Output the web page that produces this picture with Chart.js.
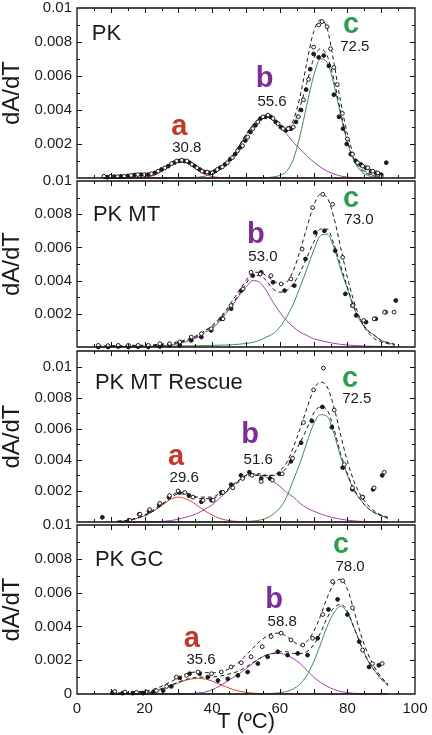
<!DOCTYPE html>
<html><head><meta charset="utf-8">
<script src="https://cdn.jsdelivr.net/npm/chart.js@4.4.1/dist/chart.umd.min.js"></script>
<style>
html,body{margin:0;padding:0;background:#fff}
body{position:relative;width:432px;height:735px;overflow:hidden}
canvas{position:absolute;left:0}
</style></head><body>
<canvas id="c1" width="432" height="186" style="top:-2px"></canvas>
<canvas id="c2" width="432" height="182" style="top:171px"></canvas>
<canvas id="c3" width="432" height="187" style="top:341px"></canvas>
<canvas id="c4" width="432" height="220" style="top:515px"></canvas>
<script>
// ---------- tick labels / categories ----------
const xTickValues = [0, 20, 40, 60, 80, 100];
const yTickValues = [0.002, 0.004, 0.006, 0.008, 0.01];
const panelNames = ['PK', 'PK MT', 'PK MT Rescue', 'PK GC'];
const peakIds1 = ['a', 'b', 'c'], peakTm1 = ['30.8', '55.6', '72.5'];
const peakIds2 = ['b', 'c'],      peakTm2 = ['53.0', '73.0'];
const peakIds3 = ['a', 'b', 'c'], peakTm3 = ['29.6', '51.6', '72.5'];
const peakIds4 = ['a', 'b', 'c'], peakTm4 = ['35.6', '58.8', '78.0'];

// ---------- temperature grid for fitted curves ----------
const gridT = [6,8,10,12,14,16,18,20,22,24,26,28,30,32,34,36,38,40,42,44,46,48,50,52,54,56,58,60,62,64,66,68,70,72,74,76,78,80,82,84,86,88,90,92,94];

// ---------- Panel 1: PK ----------
const openT1 = [8,10,12,14,16,18,20,22,24,26,28,29.5,31,32.5,34,35.5,37,38.5,40,41.5,43,44.5,46,47.5,49,50.5,52,53.5,55,56.5,58,59.5,61,62.5,64,65.5,67,68.5,70,71.5,72.5,74,75,76,77,78.5,80,81.5,83,84.5,86,87.5,89,90];
const openV1 = [0.0001,0.0001,0.00008,0.0001,0.00015,0.0002,0.0002,0.00025,0.0004,0.0006,0.00085,0.001,0.00105,0.001,0.0008,0.0006,0.0004,0.00035,0.0003,0.0005,0.00065,0.0009,0.0012,0.0016,0.0019,0.0024,0.0029,0.0033,0.0036,0.0037,0.0035,0.0032,0.0029,0.0029,0.003,0.0036,0.0046,0.0058,0.0077,0.009,0.0092,0.0089,0.0076,0.0065,0.0055,0.0038,0.0023,0.0014,0.0009,0.0007,0.0006,0.0004,0.0003,0.0001];
const filledT1 = [9,11,13,15,17,19,21,23,25,27,28.8,30.3,31.8,33.3,34.8,36.3,37.8,39.3,40.8,42.3,43.8,45.3,46.8,48.3,49.8,51.3,52.8,54.3,55.8,57.3,58.8,60.3,61.8,63.3,64.8,66.3,67.8,69,70,71.5,73,74.5,76,77.5,78.7,79.8,81,82.5,84,85.5,87,88.5,90,91.5];
const filledV1 = [0.00005,0.00008,0.0001,0.00012,0.00018,0.0002,0.0002,0.0003,0.0005,0.0007,0.0009,0.001,0.001,0.0009,0.0007,0.0005,0.00035,0.0003,0.0004,0.0006,0.0008,0.0011,0.0014,0.0018,0.0022,0.0027,0.0031,0.0035,0.0036,0.0036,0.0033,0.003,0.0028,0.0029,0.0033,0.004,0.0052,0.0064,0.0073,0.0071,0.0072,0.0066,0.0049,0.0036,0.0029,0.002,0.0014,0.001,0.0008,0.0006,0.0004,0.0003,0.0002,0.0009];
const p1Red = [null,0,0,0,0,0.00001,0.00002,0.00004,0.0001,0.00026,0.0005,0.00076,0.00093,0.00091,0.00071,0.00044,0.00022,0.00009,0.00003,0.00001,0,0,0,0,0,0,0,0,0,0,0,0,0,0,0,0,0,0,0,0,0,0,0,null,null];
const p1Purple = [null,0,0,0,0,0,0,0,0,0,0,0.00001,0.00001,0.00002,0.00003,0.00005,0.00012,0.00024,0.00046,0.0008,0.00129,0.00189,0.00254,0.00312,0.0035,0.0036,0.0034,0.003,0.0026,0.0021,0.0017,0.0013,0.00095,0.00065,0.0004,0.00024,0.00012,0.00005,0.00002,0.00001,0,0,0,null,null];
const p1Green = [null,0,0,0,0,0,0,0,0,0,0,0,0,0,0,0,0,0,0,0,0,0,0,0,0.00001,0.00002,0.00006,0.00015,0.0004,0.0011,0.0025,0.0043,0.006,0.007,0.0068,0.0055,0.0037,0.0021,0.001,0.0004,0.00015,0.00005,0.00002,null,null];
const p1FitFilled = [null,0.0001,0.0001,0.0001,0.00011,0.00013,0.00016,0.0002,0.00026,0.0004,0.0006,0.00085,0.001,0.00098,0.0008,0.00055,0.00038,0.00036,0.0005,0.00082,0.0013,0.0019,0.00255,0.0031,0.0035,0.0036,0.0034,0.0031,0.003,0.0032,0.0042,0.0056,0.007,0.0076,0.0072,0.0058,0.0039,0.0022,0.0011,0.0005,0.00025,0.00012,0.00008,null,null];
const p1FitOpen = [null,0.0001,0.0001,0.0001,0.00011,0.00013,0.00016,0.0002,0.00026,0.0004,0.0006,0.00085,0.001,0.00098,0.0008,0.00055,0.00038,0.00036,0.0005,0.00082,0.0013,0.0019,0.00255,0.0031,0.0035,0.0036,0.0034,0.0031,0.003,0.0034,0.0048,0.0068,0.0086,0.0093,0.0088,0.0068,0.0045,0.0026,0.0013,0.0006,0.0003,0.00014,0.00009,null,null];

// ---------- Panel 2: PK MT ----------
const openT2 = [6.3,9.2,12.2,15.2,18.1,21.1,24.5,27.4,30.4,33.8,36.8,39.7,43.2,45.6,49.1,51.5,54.2,57.4,60.4,63.3,66.6,69.7,72.7,75.6,78.6,81.6,84.8,87.9,91,93.8];
const openV2 = [0.0001,0.00008,0.0001,0.0001,0.0001,0.0001,0.0002,0.0002,0.0003,0.0006,0.0008,0.0011,0.0017,0.0025,0.0035,0.0045,0.0044,0.0043,0.0038,0.0041,0.0059,0.0084,0.0092,0.0086,0.0054,0.0025,0.0016,0.0017,0.0021,0.0021];
const filledT2 = [6.3,9.2,12.2,15.2,18.1,21.1,24.5,27.4,30.4,33.8,36.8,39.7,42.7,45.6,48.6,52,54.5,58,61.4,64.3,67.6,70.5,73.2,76.4,79.4,81.5,82.6,85.5,88.4,91.3,94.3];
const filledV2 = [0,0,0.00003,0,0.00002,0,0.00003,0.0001,0.0001,0.0004,0.0006,0.001,0.0017,0.0023,0.0034,0.0043,0.0045,0.0039,0.0034,0.0037,0.0053,0.0069,0.007,0.0058,0.0032,0.0025,0.0019,0.0015,0.0017,0.0021,0.0028];
const p2Purple = [0.00001,0.00001,0.00001,0.00001,0.00001,0.00001,0.00002,0.00002,0.00003,0.00005,0.00008,0.00013,0.0002,0.0003,0.00045,0.0006,0.0009,0.0011,0.0015,0.002,0.0025,0.0031,0.0036,0.004,0.0039,0.0034,0.0027,0.0021,0.0016,0.0012,0.0009,0.0007,0.0005,0.0004,0.0003,0.00022,0.00016,0.00012,0.00009,0.00007,0.00005,0.00004,0.00003,0.00002,0.00002];
const p2Green = [0.00003,0.00003,0.00003,0.00003,0.00003,0.00004,0.00004,0.00004,0.00005,0.00005,0.00005,0.00006,0.00006,0.00007,0.00007,0.00008,0.00009,0.0001,0.00011,0.00012,0.00014,0.00017,0.00021,0.00028,0.0004,0.0006,0.0008,0.0012,0.0018,0.0026,0.0036,0.0047,0.0058,0.0067,0.0068,0.006,0.0047,0.0035,0.0023,0.0015,0.001,0.0007,0.0004,0.00025,0.00015];
const p2FitFilled = [0.00004,0.00004,0.00004,0.00004,0.00004,0.00005,0.00006,0.00006,0.00008,0.0001,0.00013,0.00019,0.00026,0.00037,0.00052,0.00068,0.001,0.0012,0.0016,0.0021,0.0026,0.0032,0.0038,0.0043,0.0043,0.004,0.0035,0.0033,0.0034,0.0038,0.0045,0.0054,0.0063,0.0071,0.0071,0.0062,0.0049,0.0036,0.0024,0.0016,0.001,0.0007,0.0004,0.00027,0.00017];
const p2FitOpen = [0.00008,0.00008,0.00008,0.00008,0.00009,0.0001,0.0001,0.00011,0.00013,0.00016,0.0002,0.00025,0.00032,0.00042,0.00056,0.00075,0.001,0.0013,0.0017,0.0022,0.0028,0.0034,0.004,0.0045,0.0045,0.0043,0.004,0.0038,0.0039,0.0046,0.0058,0.0072,0.0085,0.0092,0.009,0.0078,0.006,0.0042,0.0027,0.0016,0.0009,0.0005,0.0003,0.0002,0.0001];

// ---------- Panel 3: PK MT Rescue ----------
const openT3 = [15.6,18.6,21.5,24.5,27.4,29.9,31.9,34.3,37.3,40.3,43.2,46.1,49,51.8,54.5,57.8,60.7,63.8,67,70,72.9,76.1,79.1,81.5,84.5,87.9,90.9];
const openV3 = [0.0001,0.0005,0.0008,0.0012,0.0017,0.002,0.0019,0.0016,0.0014,0.0014,0.0019,0.0022,0.0028,0.003,0.0026,0.0027,0.0031,0.0041,0.0064,0.0085,0.0099,0.0072,0.0037,0.0022,0.0016,0.0022,0.0032];
const filledT3 = [7.5,15.4,18.4,21.3,24.3,27.2,30.2,33.1,36.8,39.8,42.7,45.6,48.5,51,54.5,57.1,59.9,63.3,66.3,69.5,72.6,75.4,78.6,81.5,84.5,87.6,90.3];
const filledV3 = [0.0003,0.00012,0.0005,0.0007,0.0011,0.0016,0.0019,0.0017,0.0013,0.0014,0.0019,0.0024,0.003,0.0032,0.0028,0.0028,0.0031,0.0039,0.0051,0.0065,0.0074,0.0061,0.0035,0.0021,0.0016,0.0021,0.003];
const p3Red = [null,null,null,0.00003,0.00006,0.00013,0.00025,0.0004,0.00062,0.0009,0.0012,0.0015,0.0016,0.0015,0.0013,0.001,0.0007,0.00045,0.00025,0.00013,0.00006,0.00003,0.00001,0,0,0,0,0,0,0,0,0,0,0,0,0,0,0,0,0,0,0,0,0,null];
const p3Purple = [null,null,null,0,0,0,0,0.00001,0.00001,0.00002,0.00005,0.0001,0.00018,0.0003,0.00042,0.0006,0.00085,0.0011,0.0015,0.0019,0.0023,0.0027,0.003,0.0031,0.003,0.0029,0.0026,0.0023,0.0019,0.0016,0.0012,0.0009,0.0007,0.00052,0.00038,0.00027,0.00018,0.00012,0.00007,0.00004,0.00002,0.00001,0,0,null];
const p3Green = [null,null,null,0,0,0,0,0,0,0,0,0,0,0,0,0,0,0,0,0,0,0,0.00003,0.00006,0.00012,0.00024,0.0005,0.0009,0.0016,0.0027,0.0038,0.0051,0.0063,0.0069,0.0068,0.0057,0.0042,0.003,0.002,0.0014,0.0009,0.0006,0.0004,0.00025,null];
const p3FitFilled = [null,null,null,0.00005,0.00008,0.00014,0.00026,0.00041,0.00063,0.00092,0.00125,0.0016,0.0018,0.0018,0.0017,0.0016,0.0016,0.0016,0.0018,0.002,0.0024,0.0027,0.003,0.0031,0.0031,0.003,0.003,0.0031,0.0035,0.0043,0.0051,0.006,0.007,0.0074,0.0072,0.006,0.0044,0.0031,0.0021,0.0014,0.0009,0.0006,0.0004,0.00025,null];
const p3FitOpen = [null,null,null,0.00005,0.00008,0.00015,0.00028,0.00045,0.0007,0.001,0.0013,0.0017,0.0019,0.0019,0.0017,0.0015,0.0015,0.0015,0.0017,0.0019,0.0023,0.0026,0.0029,0.003,0.003,0.003,0.003,0.0033,0.0038,0.0048,0.006,0.0073,0.0085,0.009,0.0087,0.0074,0.0056,0.0039,0.0026,0.0017,0.0011,0.0007,0.00045,0.0003,null];

// ---------- Panel 4: PK GC ----------
const openT4 = [11.2,14.2,17.6,20.5,23.5,26.5,29.4,32.4,35.8,39.8,42.7,45.6,48.6,51.5,54.8,57.4,60.4,63.3,66.8,69.7,72.7,75.6,78.6,81.5,84.5,87.4,90.3];
const openV4 = [0.00015,0.00012,0.0001,0.00012,0.0002,0.00045,0.001,0.0011,0.0013,0.0012,0.0013,0.0016,0.00185,0.0022,0.0028,0.0034,0.0036,0.0032,0.0029,0.0033,0.0047,0.00665,0.0067,0.0051,0.0026,0.0018,0.0018];
const filledT4 = [10.5,13.5,16.5,19.5,22.5,25.5,27.9,30.4,33.3,36.3,38.7,41.7,44.6,47.6,50.5,53.5,56.4,59.4,62.3,65.3,68.2,71.2,74.4,77.1,80,83.5,86.4,89.3];
const filledV4 = [0.00008,0.00005,0.00005,0.00005,0.0001,0.0002,0.00045,0.00095,0.0012,0.0012,0.001,0.0008,0.0009,0.0011,0.0013,0.0018,0.0022,0.0025,0.0023,0.0024,0.0023,0.0033,0.005,0.0056,0.0047,0.0031,0.0016,0.0017];
const p4Red = [null,null,0,0,0,0.00001,0.00002,0.00005,0.0001,0.0002,0.00033,0.0005,0.00066,0.0008,0.0009,0.00093,0.00088,0.00076,0.0006,0.00043,0.00028,0.00017,0.0001,0.00005,0.00002,0,0,0,0,0,0,0,0,0,0,0,0,0,0,0,0,0,0,0,null];
const p4Purple = [null,null,0,0,0,0,0,0,0,0,0,0,0,0,0.00003,0.00006,0.00012,0.00025,0.00045,0.0007,0.00095,0.0012,0.0015,0.0018,0.0021,0.0023,0.0024,0.0024,0.0023,0.0021,0.0018,0.0014,0.001,0.0007,0.00045,0.00027,0.00015,0.00008,0.00004,0.00002,0,0,0,0,null];
const p4Green = [null,null,0,0,0,0,0,0,0,0,0,0,0,0,0,0,0,0,0,0,0,0,0,0,0,0.00002,0.00004,0.00008,0.00015,0.0003,0.0006,0.0011,0.0019,0.0029,0.004,0.0048,0.0052,0.0048,0.0039,0.0029,0.002,0.0014,0.0009,0.0005,null];
const p4FitFilled = [null,null,0.00003,0.00003,0.00004,0.00005,0.00007,0.0001,0.00015,0.00025,0.0004,0.00055,0.0007,0.00085,0.00093,0.001,0.001,0.001,0.00105,0.00113,0.00123,0.00137,0.0016,0.00185,0.0021,0.0023,0.0024,0.0025,0.0025,0.0024,0.0024,0.0025,0.0029,0.0036,0.0045,0.0051,0.0053,0.0049,0.0039,0.0029,0.002,0.0014,0.0009,0.0005,null];
const p4FitOpen = [null,null,0.00005,0.00006,0.00008,0.0001,0.00013,0.00018,0.00025,0.00037,0.00055,0.00075,0.00097,0.00115,0.00128,0.0013,0.00127,0.00125,0.00128,0.0014,0.0016,0.0019,0.0023,0.0027,0.0031,0.0034,0.0036,0.0036,0.0034,0.0031,0.0029,0.0031,0.0037,0.0046,0.0057,0.0065,0.0068,0.0062,0.0049,0.0035,0.0024,0.0016,0.001,0.0006,null];

// ---------- styling ----------
const FONT = '"Liberation Sans", Arial, Helvetica, sans-serif';
const INK = '#1a1a1a';
const LINE_COL = { a: '#d0463a', b: '#a23fb2', c: '#3b8f4f' };
const LABEL_COL = { a: '#c4372a', b: '#7b2f96', c: '#2f9e4a' };

function pts(xs, ys) { return xs.map((x, i) => ({ x: x, y: ys[i] })); }

const panels = [
  { id: 'c1', name: panelNames[0], ymax: 0.01, padTop: 10, padBottom: 6, last: false,
    comps: [['a', p1Red], ['b', p1Purple], ['c', p1Green]], fits: [p1FitOpen, p1FitFilled],
    open: [openT1, openV1], filled: [filledT1, filledV1],
    namePos: [4.4, 0.0081], ids: peakIds1, tms: peakTm1,
    letterPos: [[30.3, 0.00253], [55.5, 0.00535], [81.1, 0.00853]],
    tmPos: [[32.5, 0.00176], [57.7, 0.00447], [82.2, 0.0077]] },
  { id: 'c2', name: panelNames[1], ymax: 0.01, padTop: 10, padBottom: 6, last: false,
    comps: [['b', p2Purple], ['c', p2Green]], fits: [p2FitOpen, p2FitFilled],
    open: [openT2, openV2], filled: [filledT2, filledV2],
    namePos: [4.7, 0.0076], ids: peakIds2, tms: peakTm2,
    letterPos: [[52.9, 0.00627], [81.1, 0.00843]],
    tmPos: [[55.0, 0.00542], [83.4, 0.00765]] },
  { id: 'c3', name: panelNames[2], ymax: 0.011, padTop: 10, padBottom: 6, last: false,
    comps: [['a', p3Red], ['b', p3Purple], ['c', p3Green]], fits: [p3FitOpen, p3FitFilled],
    open: [openT3, openV3], filled: [filledT3, filledV3],
    namePos: [5.3, 0.00858], ids: peakIds3, tms: peakTm3,
    letterPos: [[29.3, 0.00368], [51.2, 0.0051], [80.8, 0.00871]],
    tmPos: [[31.7, 0.00284], [53.6, 0.004], [82.8, 0.00794]] },
  { id: 'c4', name: panelNames[3], ymax: 0.01, padTop: 10, padBottom: 0, last: true,
    comps: [['a', p4Red], ['b', p4Purple], ['c', p4Green]], fits: [p4FitOpen, p4FitFilled],
    open: [openT4, openV4], filled: [filledT4, filledV4],
    namePos: [5.3, 0.00757], ids: peakIds4, tms: peakTm4,
    letterPos: [[34.0, 0.00278], [58.3, 0.00509], [78.1, 0.00834]],
    tmPos: [[36.7, 0.00201], [60.7, 0.00426], [80.8, 0.00751]] }
];
const panelById = {};
panels.forEach(p => panelById[p.id] = p);

const framePlugin = {
  id: 'frame',
  afterDraw(chart) {
    const p = panelById[chart.canvas.id];
    const ctx = chart.ctx;
    const a = chart.chartArea;
    const xs = chart.scales.x, ys = chart.scales.y;
    ctx.save();
    ctx.setLineDash([]);
    ctx.globalAlpha = 1;
    ctx.globalCompositeOperation = 'source-over';
    // box
    ctx.strokeStyle = '#111111'; ctx.lineWidth = 1.3;
    ctx.beginPath();
    ctx.rect(a.left, a.top, a.right - a.left, a.bottom - a.top);
    ctx.stroke();
    // inward ticks
    ctx.lineWidth = 1; ctx.beginPath();
    for (let k = 1; k < 20; k++) {
      const px = Math.round(xs.getPixelForValue(k * 5)) + 0.5;
      const L = k % 2 === 0 ? 5 : 3;
      ctx.moveTo(px, a.bottom); ctx.lineTo(px, a.bottom - L);
      ctx.moveTo(px, a.top); ctx.lineTo(px, a.top + L);
    }
    for (let k = 1; k * 0.001 < p.ymax - 1e-9; k++) {
      const py = Math.round(ys.getPixelForValue(k * 0.001)) + 0.5;
      const L = k % 2 === 0 ? 5 : 3;
      ctx.moveTo(a.left, py); ctx.lineTo(a.left + L, py);
      ctx.moveTo(a.right, py); ctx.lineTo(a.right - L, py);
    }
    ctx.stroke();
    // panel name
    ctx.fillStyle = INK; ctx.textAlign = 'left'; ctx.textBaseline = 'alphabetic';
    ctx.font = '22px ' + FONT;
    ctx.fillText(p.name, xs.getPixelForValue(p.namePos[0]), ys.getPixelForValue(p.namePos[1]));
    // peak letters and Tm values
    ctx.textAlign = 'center';
    p.ids.forEach((id, i) => {
      ctx.font = 'bold 29px ' + FONT; ctx.fillStyle = LABEL_COL[id]; ctx.textBaseline = 'alphabetic';
      ctx.fillText(id, xs.getPixelForValue(p.letterPos[i][0]), ys.getPixelForValue(p.letterPos[i][1]));
      ctx.font = '15px ' + FONT; ctx.fillStyle = INK; ctx.textBaseline = 'middle';
      ctx.fillText(p.tms[i], xs.getPixelForValue(p.tmPos[i][0]), ys.getPixelForValue(p.tmPos[i][1]));
    });
    ctx.restore();
  }
};

panels.forEach(p => {
  const datasets = [];
  p.comps.forEach(([k, arr]) => datasets.push({
    data: pts(gridT, arr), showLine: true, borderColor: LINE_COL[k], borderWidth: 1,
    pointRadius: 0, cubicInterpolationMode: 'monotone', order: 4, clip: false }));
  p.fits.forEach(arr => datasets.push({
    data: pts(gridT, arr), showLine: true, borderColor: INK, borderWidth: 1, borderDash: [4, 3],
    pointRadius: 0, cubicInterpolationMode: 'monotone', order: 3, clip: false }));
  datasets.push({ data: pts(p.filled[0], p.filled[1]), showLine: false, pointRadius: 1.9,
    pointBackgroundColor: INK, pointBorderColor: INK, pointBorderWidth: 1, order: 2, clip: false });
  datasets.push({ data: pts(p.open[0], p.open[1]), showLine: false, pointRadius: 1.9,
    pointBackgroundColor: '#fff', pointBorderColor: INK, pointBorderWidth: 1, order: 1, clip: false });

  const yTicks = p.last ? [0].concat(yTickValues) : yTickValues;
  new Chart(document.getElementById(p.id), {
    type: 'scatter',
    data: { datasets: datasets },
    plugins: [framePlugin],
    options: {
      responsive: false, animation: false, devicePixelRatio: 1,
      events: [],
      layout: { padding: { top: p.padTop, right: 17, bottom: p.padBottom, left: 0 } },
      plugins: { legend: { display: false }, tooltip: { enabled: false } },
      scales: {
        x: {
          type: 'linear', min: 0, max: 100, display: p.last,
          grid: { display: false, drawTicks: false }, border: { display: false },
          afterBuildTicks: s => { s.ticks = xTickValues.map(v => ({ value: v })); },
          afterFit: s => { s.height = p.last ? 41 : 0; s.paddingLeft = 0; s.paddingRight = 0; },
          ticks: { padding: 6, color: INK, maxRotation: 0, autoSkip: false,
                   font: { family: FONT, size: 15 } },
          title: { display: p.last, text: 'T (ºC)', color: INK,
                   font: { family: FONT, size: 22, lineHeight: 1 }, padding: { top: 0, bottom: 2 } }
        },
        y: {
          type: 'linear', min: 0, max: p.ymax,
          grid: { display: false, drawTicks: false }, border: { display: false },
          afterBuildTicks: s => { s.ticks = yTicks.map(v => ({ value: v })); },
          afterFit: s => { s.width = 77; s.paddingTop = 0; s.paddingBottom = 0; },
          ticks: { padding: 5, color: INK, autoSkip: false, font: { family: FONT, size: 15 },
                   callback: v => String(+Number(v).toFixed(3)) },
          title: { display: true, text: 'dA/dT', color: INK,
                   font: { family: FONT, size: 24, lineHeight: 1 }, padding: 0 }
        }
      }
    }
  });
});
</script>
</body></html>
